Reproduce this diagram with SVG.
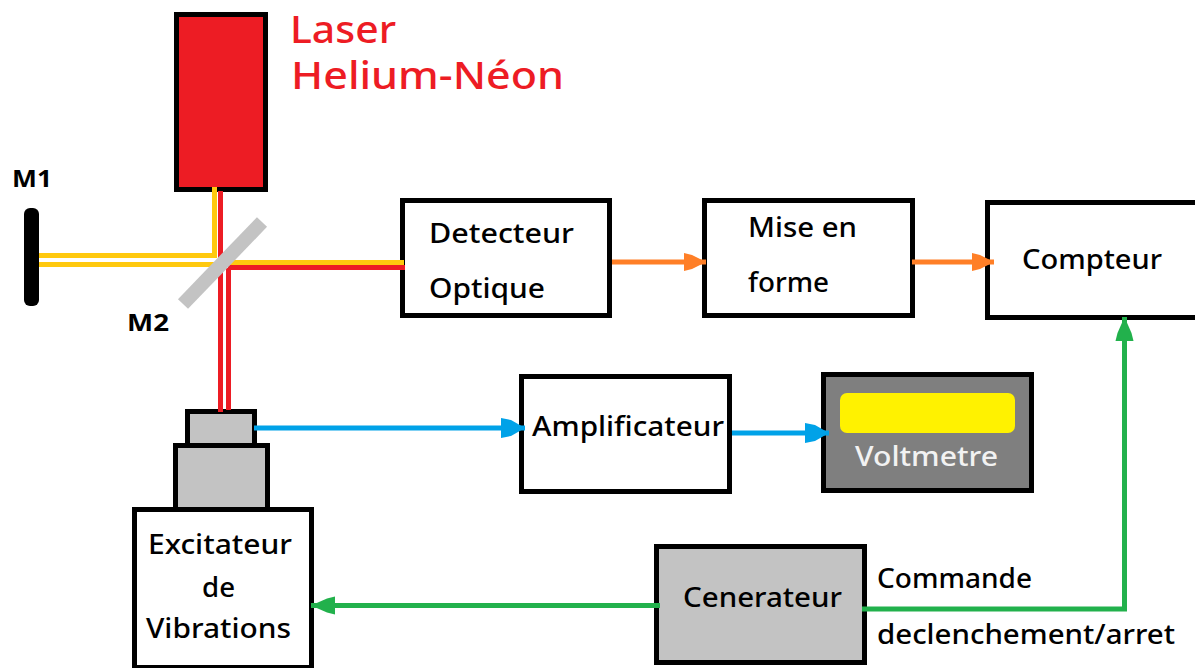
<svg xmlns="http://www.w3.org/2000/svg" width="1195" height="668" viewBox="0 0 1195 668">
<style>
.box{fill:#fff;stroke:#000;stroke-width:5}
.gray{fill:#c3c3c3;stroke:#000;stroke-width:5}
.t{font-family:"Noto Sans","Liberation Sans",sans-serif;font-size:26.500px;font-weight:500;fill:#000}
.m{font-weight:700;font-size:24px}
.l{font-family:"Noto Sans","Liberation Sans",sans-serif;font-size:38px;font-weight:500;fill:#ed1c24}
.beam{fill:none;stroke-width:5}
.y{stroke:#ffc90e}.r{stroke:#ed1c24}
.o{stroke:#ff7f27;fill:none;stroke-width:5}
.b{stroke:#00a2e8;fill:none;stroke-width:5}
.g{stroke:#22b14c;fill:none;stroke-width:5}
</style>
<defs>
<marker id="ao" markerUnits="userSpaceOnUse" markerWidth="24" markerHeight="20" refX="22" refY="10" orient="auto"><path d="M0 1L8 3L22 10L8 17L0 19Z" fill="#ff7f27"/></marker>
<marker id="ab" markerUnits="userSpaceOnUse" markerWidth="26" markerHeight="22" refX="24" refY="11" orient="auto"><path d="M0 1L10 3L24 11L10 19L0 21Z" fill="#00a2e8"/></marker>
<marker id="ag" markerUnits="userSpaceOnUse" markerWidth="26" markerHeight="20" refX="24" refY="10" orient="auto"><path d="M0 1L8 3L24 10L8 17L0 19Z" fill="#22b14c"/></marker>
</defs>
<rect width="1195" height="668" fill="#fff"/>
<g id="laser">
<rect x="176.500" y="14.500" width="89" height="175" fill="#ed1c24" stroke="#000" stroke-width="5"/>
<text class="l" x="290" y="43" textLength="106" lengthAdjust="spacingAndGlyphs">Laser</text>
<text class="l" x="291" y="89" textLength="273" lengthAdjust="spacingAndGlyphs">Helium-Néon</text>
</g>
<g id="m1">
<rect x="24" y="208" width="15" height="98" rx="6" fill="#000"/>
<text class="t m" x="12" y="187" textLength="40" lengthAdjust="spacingAndGlyphs">M1</text>
</g>
<g id="detecteur">
<rect class="box" x="402.500" y="200.500" width="207" height="115"/>
<text class="t" x="429" y="243" textLength="145" lengthAdjust="spacingAndGlyphs">Detecteur</text>
<text class="t" x="429" y="298" textLength="116" lengthAdjust="spacingAndGlyphs">Optique</text>
</g>
<g id="mise-en-forme">
<rect class="box" x="704.500" y="200.500" width="208" height="115"/>
<text class="t" x="748" y="237" textLength="109" lengthAdjust="spacingAndGlyphs">Mise en</text>
<text class="t" x="748" y="292" textLength="81" lengthAdjust="spacingAndGlyphs">forme</text>
</g>
<g id="compteur">
<rect class="box" x="987.500" y="202.500" width="210" height="115"/>
<text class="t" x="1022" y="269" textLength="140" lengthAdjust="spacingAndGlyphs">Compteur</text>
</g>
<g id="amplificateur">
<rect class="box" x="521.500" y="376.500" width="208" height="115"/>
<text class="t" x="532" y="436" textLength="192" lengthAdjust="spacingAndGlyphs">Amplificateur</text>
</g>
<g id="voltmetre">
<rect x="823.500" y="374.500" width="208" height="116" fill="#7f7f7f" stroke="#000" stroke-width="5"/>
<rect x="840" y="393" width="175" height="40" rx="7" fill="#fff200"/>
<text class="t" x="855" y="466" textLength="143" lengthAdjust="spacingAndGlyphs" style="fill:#f2f2f2">Voltmetre</text>
</g>
<g id="excitateur">
<rect class="gray" x="187.500" y="411.500" width="67" height="36"/>
<rect class="gray" x="175.500" y="445.500" width="92" height="64"/>
<rect class="box" x="134.500" y="509.500" width="177" height="158"/>
<text class="t" x="148" y="554" textLength="144" lengthAdjust="spacingAndGlyphs">Excitateur</text>
<text class="t" x="202" y="597" textLength="33" lengthAdjust="spacingAndGlyphs">de</text>
<text class="t" x="146" y="638" textLength="145" lengthAdjust="spacingAndGlyphs">Vibrations</text>
</g>
<g id="generateur">
<rect class="gray" x="656.500" y="546.500" width="208" height="116"/>
<text class="t" x="683" y="607" textLength="159" lengthAdjust="spacingAndGlyphs">Cenerateur</text>
</g>
<g id="commande">
<text class="t" x="877" y="588" textLength="155" lengthAdjust="spacingAndGlyphs">Commande</text>
<text class="t" x="877" y="644" textLength="298" lengthAdjust="spacingAndGlyphs">declenchement/arret</text>
</g>
<g id="connectors">
<path class="beam y" d="M214.500 187V255.500H39"/>
<path class="beam y" d="M39 264.500H215"/>
<path class="beam r" d="M220.500 191V412"/>
<path class="beam r" d="M228.500 268V410"/>
<path class="beam y" d="M228 262.500H404"/>
<path class="beam r" d="M228 267.500H405"/>
<path class="o" d="M612 262H706" marker-end="url(#ao)"/>
<path class="o" d="M912 262H994" marker-end="url(#ao)"/>
<path class="b" d="M254 428H525" marker-end="url(#ab)"/>
<path class="b" d="M732 433H829" marker-end="url(#ab)"/>
<path class="g" d="M660 605.500H311" marker-end="url(#ag)"/>
<path class="g" d="M862 609H1124.500V317" marker-end="url(#ag)"/>
</g>
<g id="m2">
<path d="M183 304L262 222" stroke="#c3c3c3" stroke-width="14" fill="none"/>
<text class="t m" x="127" y="331" textLength="42" lengthAdjust="spacingAndGlyphs">M2</text>
</g>
</svg>
